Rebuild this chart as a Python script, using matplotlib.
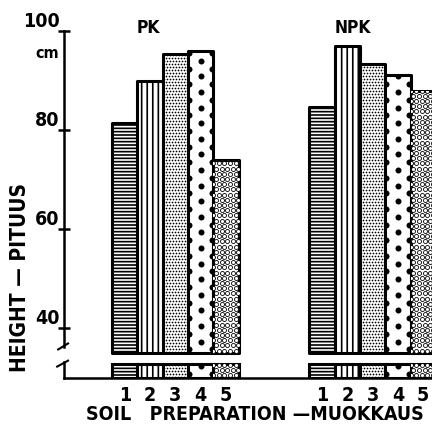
import numpy as np
import matplotlib.pyplot as plt

plt.rcParams['font.family'] = ['DejaVu Sans']
plt.rcParams['font.stretch'] = 'condensed'
plt.rcParams['font.weight'] = 'bold'
plt.rcParams['hatch.linewidth'] = 1.2

# data (height in cm)
groups = ['PK', 'NPK']
treatments = ['1', '2', '3', '4', '5']
pk_height = [81.4, 89.9, 95.4, 96.0, 73.9]
npk_height = [84.6, 97.0, 93.3, 91.1, 87.9]
y_ticks = [40, 60, 80, 100]

base = 35      # bars start here (axis is broken below)
strip_lo = 30  # key strip under the break
strip_hi = 32.9
group_gap = 7.8
title_off = [0.92, 1.22]

fig = plt.figure(figsize=(4.32, 4.30), dpi=100)
ax = fig.add_axes([64 / 432, 1 - 378 / 430, 368 / 432, 358 / 430])
ax.set_xlim(-2.4, 12.15)
ax.set_ylim(30, 102.22)

px_x = 368 / (12.15 + 2.4)
px_y = 358 / (102.22 - 30)


def dots(ax, bar, step_x, step_y, diam, filled, inset=0.0):
    # staggered dot pattern clipped to the bar
    x0, y0 = bar.get_x(), bar.get_y()
    w, h = bar.get_width(), bar.get_height()
    dx = step_x / px_x
    dy = step_y / px_y
    xs, ys = [], []
    for i, yy in enumerate(np.arange(y0 + dy / 2, y0 + h + dy, dy)):
        off = (i % 2) * dx / 2
        for xx in np.arange(x0 + off - dx, x0 + w + dx, dx):
            if inset and i % 2 == 0:
                xx = xx + inset if xx <= x0 + 1e-6 else xx - inset
            xs.append(xx)
            ys.append(yy)
    s = (diam * 0.72) ** 2
    if filled:
        sc = ax.scatter(xs, ys, s=s, c='black', linewidths=0, zorder=2)
    else:
        sc = ax.scatter(xs, ys, s=s, facecolors='white', edgecolors='black',
                        linewidths=0.6, zorder=2)
    sc.set_clip_path(bar)


def fill(ax, bar, k):
    if k == 0:
        bar.set_hatch('-----')
    elif k == 1:
        bar.set_hatch('|||')
    elif k == 2:
        dots(ax, bar, 3.0, 3.0, 1.7, True)
    elif k == 3:
        dots(ax, bar, bar.get_width() * px_x, 7.8, 6.0, True, inset=0.05)
    else:
        dots(ax, bar, 5.6, 5.2, 4.0, False)


xpos = []
xlab = []
for g, vals in enumerate([pk_height, npk_height]):
    x = np.arange(len(vals)) + g * group_gap
    heights = np.array(vals) - base
    bars = ax.bar(x, heights, width=1.0, bottom=base, color='white',
                  edgecolor='black', linewidth=2.2, joinstyle='round', zorder=1)
    keys = ax.bar(x, strip_hi - strip_lo, width=1.0, bottom=strip_lo, color='white',
                  edgecolor='black', linewidth=2.2, zorder=1)
    for k in range(len(vals)):
        fill(ax, bars[k], k)
        fill(ax, keys[k], k)
    ax.text(x[0] + title_off[g], 100.6, groups[g], ha='center', va='center', fontsize=12.5)
    xpos += list(x)
    xlab += treatments

# axis with break
for s in ['top', 'right']:
    ax.spines[s].set_visible(False)
ax.spines['left'].set_bounds(36.2, 100)
ax.spines['left'].set_linewidth(1.8)
ax.spines['bottom'].set_linewidth(1.8)
ax.plot([-2.4, -2.4], [30, 33.3], color='black', lw=1.8, clip_on=False)
ax.plot([-2.63, -2.24], [35.76, 36.97], color='black', lw=1.5, clip_on=False)
ax.plot([-2.67, -2.24], [32.3, 33.5], color='black', lw=1.5, clip_on=False)

ax.set_yticks(y_ticks, [str(v) for v in y_ticks], fontsize=14)
ax.tick_params(axis='y', direction='inout', length=8, width=1.8, pad=-1)
for lab in ax.get_yticklabels():
    lab.set_verticalalignment('bottom')
ax.text(-2.6, 95.4, 'cm', ha='right', va='center', fontsize=11.5)

ax.set_xticks(xpos, xlab, fontsize=14)
ax.tick_params(axis='x', length=0, pad=6)

fig.text(20 / 432, 1 - 278 / 430, 'HEIGHT — PITUUS', rotation=90,
         ha='center', va='center', fontsize=15)
fig.text(255 / 432, 1 - 414 / 430, 'SOIL   PREPARATION —MUOKKAUS',
         ha='center', va='center', fontsize=14)

fig.savefig('out.png', dpi=100)
